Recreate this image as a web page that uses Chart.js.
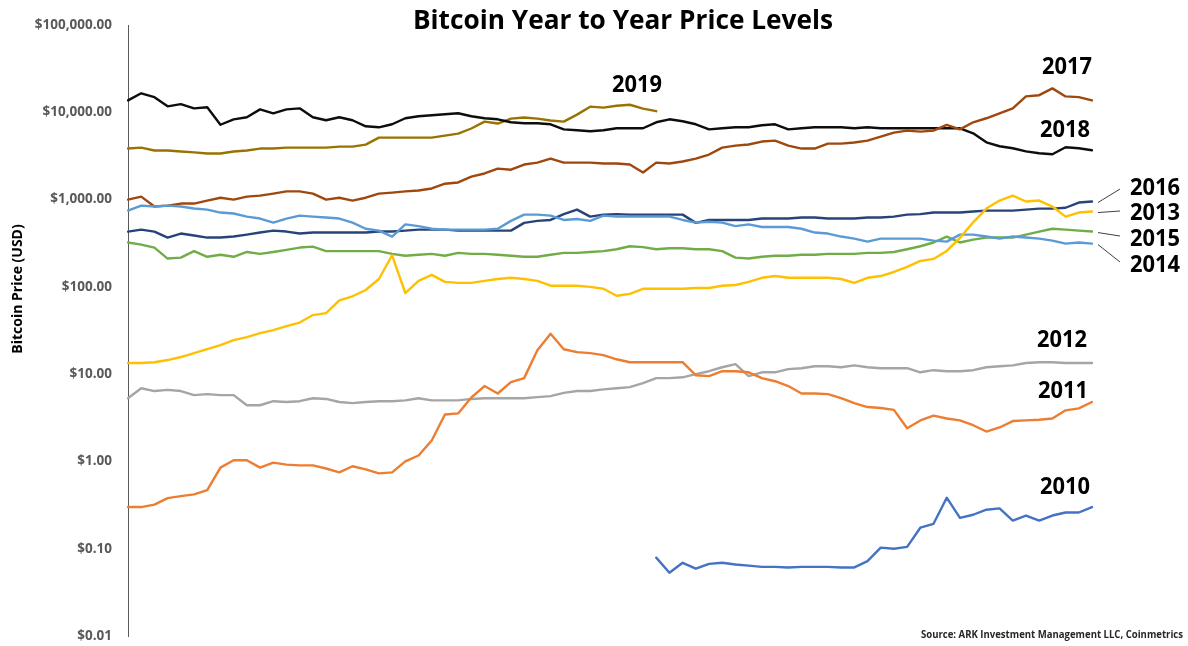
<!DOCTYPE html>
<html>
<head>
<meta charset="utf-8">
<script src="https://cdn.jsdelivr.net/npm/chart.js@4.4.1/dist/chart.umd.min.js"></script>
<style>
html,body{margin:0;padding:0;background:#ffffff;}
#wrap{width:1188px;height:646px;position:relative;}
</style>
</head>
<body>
<div id="wrap"><canvas id="c" width="1188" height="646"></canvas></div>
<script>
// ---------- data ----------
const days = [0,5,10,15,20,25,30,35,40,45,50,55,60,65,70,75,80,85,90,95,100,105,110,115,120,125,130,135,140,145,150,155,160,165,170,175,180,185,190,195,200,205,210,215,220,225,230,235,240,245,250,255,260,265,270,275,280,285,290,295,300,305,310,315,320,325,330,335,340,345,350,355,360,365];

const yTickValues = [0.01, 0.1, 1, 10, 100, 1000, 10000, 100000];

const title = 'Bitcoin Year to Year Price Levels';
const yTitle = 'Bitcoin Price (USD)';
const source = 'Source: ARK Investment Management LLC, Coinmetrics';

// 2010 begins at day 200 (index 40)
const start2010 = 40;
const p2010 = [0.079,0.053,0.069,0.059,0.067,0.069,0.066,0.064,0.062,0.062,
  0.061,0.062,0.062,0.062,0.061,0.061,0.072,0.103,0.10,0.105,
  0.174,0.193,0.384,0.226,0.245,0.28,0.29,0.21,0.24,0.21,
  0.24,0.26,0.26,0.30];

const p2011 = [0.30,0.30,0.32,0.38,0.40,0.42,0.47,0.85,1.03,1.03,
  0.85,0.97,0.92,0.90,0.90,0.83,0.75,0.88,0.81,0.73,
  0.75,1.0,1.17,1.74,3.45,3.55,5.4,7.3,6.0,8.1,
  9.0,18.8,29,19.3,17.9,17.4,16.5,14.8,13.7,13.7,
  13.7,13.7,13.7,9.7,9.5,10.8,10.8,10.5,9.0,8.3,
  7.3,6.0,6.0,5.9,5.3,4.65,4.2,4.1,3.9,2.4,
  2.95,3.35,3.1,2.95,2.6,2.2,2.45,2.9,2.95,3.0,
  3.1,3.85,4.05,4.8];

const p2012 = [5.3,6.9,6.4,6.6,6.4,5.75,5.9,5.75,5.75,4.4,
  4.4,4.9,4.8,4.9,5.3,5.2,4.8,4.65,4.8,4.9,
  4.9,5.0,5.3,5.0,5.0,5.0,5.2,5.3,5.3,5.3,
  5.3,5.45,5.6,6.1,6.4,6.4,6.7,6.9,7.1,7.9,
  9.0,9.0,9.2,10,10.8,12.0,13,9.5,10.5,10.5,
  11.4,11.7,12.3,12.3,12.0,12.6,12.0,11.7,11.7,11.7,
  10.5,11.1,10.8,10.8,11.1,12.0,12.3,12.6,13.4,13.7,
  13.7,13.4,13.4,13.4];

const p2013 = [13.4,13.4,13.7,14.5,15.7,17.4,19.3,21.5,24.5,26.5,
  29.5,31.9,35.5,39,47.5,50,70,78,92,123,
  230,85,117,137,114,111,111,117,123,127,
  123,117,103,103,103,100,95,79,83,95,
  95,95,95,97,97,103,105,114,127,133,
  127,127,127,127,123,111,127,133,148,169,
  198,209,258,364,549,789,974,1110,950,974,
  832,638,710,729];

const p2014 = [748,853,832,853,832,789,768,710,693,638,
  606,545,606,655,638,622,606,545,463,441,
  377,520,496,463,453,453,453,453,463,570,
  672,672,655,584,598,570,655,638,638,638,
  638,638,584,545,557,545,496,520,485,485,
  485,463,419,408,377,357,330,357,357,357,
  357,339,330,397,397,377,357,377,367,357,
  339,313,322,313];

const p2015 = [322,305,282,211,216,257,221,233,221,251,
  239,251,265,282,289,257,257,257,257,257,
  239,227,233,239,227,245,239,239,233,227,
  221,221,233,245,245,251,257,270,292,285,
  270,277,277,270,270,257,216,211,221,227,
  227,233,233,239,239,239,245,245,251,270,
  292,322,377,322,348,367,367,367,397,430,
  463,453,441,430];

const p2016 = [430,453,430,367,408,387,367,367,377,397,
  419,441,430,408,419,419,419,419,419,430,
  430,441,453,453,453,441,441,441,441,441,
  541,570,584,682,768,638,672,682,672,672,
  672,672,672,541,584,584,584,584,606,606,
  606,622,622,606,606,606,622,622,638,672,
  682,710,710,710,729,748,748,748,768,788,
  788,806,924,950];

const p2017 = [1000,1080,832,853,900,900,974,1050,1000,1080,
  1110,1170,1240,1240,1170,1000,1050,974,1050,1170,
  1200,1240,1270,1340,1520,1570,1830,1990,2260,2200,
  2520,2650,2950,2650,2650,2650,2590,2590,2520,2040,
  2650,2590,2730,2950,3280,3940,4150,4270,4620,4740,
  4150,3840,3840,4380,4380,4500,4740,5250,5850,6160,
  6000,6160,7160,6370,7680,8540,9740,11100,15200,15700,
  18800,15200,14900,13700];

const p2018 = [13700,16500,14900,11700,12400,11100,11400,7200,8300,8770,
  10800,9740,10800,11100,8770,8100,8770,8100,6910,6730,
  7290,8540,9000,9240,9490,9740,9000,8540,8310,7680,
  7480,7480,7290,6380,6220,6060,6220,6560,6560,6560,
  7680,8310,7890,7290,6380,6560,6730,6730,7100,7290,
  6380,6560,6730,6730,6730,6560,6730,6560,6560,6560,
  6560,6560,6560,6560,5750,4530,4080,3870,3570,3390,
  3300,3970,3870,3670];

// 2019 ends at day 200 (index 40)
const p2019 = [3840,3940,3650,3650,3550,3470,3370,3370,3550,3650,
  3840,3840,3940,3940,3940,3940,4040,4040,4260,5130,
  5130,5130,5130,5130,5410,5700,6520,7820,7430,8470,
  8700,8470,8040,7820,9400,11600,11300,11900,12200,11000,
  10300];

// ---------- styles ----------
const seriesStyle = {
  '2010': '#4472C4', '2011': '#ED7D31', '2012': '#A5A5A5', '2013': '#FFC000',
  '2014': '#5B9BD5', '2015': '#70AD47', '2016': '#264478', '2017': '#9E480E',
  '2018': '#0d0d0d', '2019': '#997300'
};

const lead = Array(start2010).fill(null);
const seriesData = {
  '2018': p2018, '2019': p2019, '2017': p2017, '2016': p2016, '2013': p2013,
  '2014': p2014, '2015': p2015, '2012': p2012, '2011': p2011, '2010': lead.concat(p2010)
};

const datasets = Object.keys(seriesData).map(k => ({
  label: k,
  data: seriesData[k],
  borderColor: seriesStyle[k],
  backgroundColor: seriesStyle[k],
  borderWidth: 2.4,
  pointRadius: 0,
  tension: 0,
  fill: false,
  spanGaps: false,
  borderJoinStyle: 'round',
  borderCapStyle: 'round'
}));

// label layout (left x, baseline y) and optional leader line end
const labelLayout = {
  '2019': {x: 612, y: 92},
  '2017': {x: 1042, y: 74},
  '2018': {x: 1040, y: 137},
  '2016': {x: 1130, y: 195, lx: 1120, ly: 189},
  '2013': {x: 1130, y: 220, lx: 1120, ly: 211},
  '2015': {x: 1130, y: 246, lx: 1120, ly: 236},
  '2014': {x: 1130, y: 272, lx: 1120, ly: 262},
  '2012': {x: 1037, y: 347},
  '2011': {x: 1038, y: 398},
  '2010': {x: 1040, y: 494}
};

const FONT = '"Open Sans", "Liberation Sans", sans-serif';

const annotate = {
  id: 'annotate',
  afterDraw(chart) {
    const ctx = chart.ctx;
    const xs = chart.scales.x, ys = chart.scales.y;
    ctx.save();
    // title
    ctx.fillStyle = '#000';
    ctx.textAlign = 'center';
    ctx.textBaseline = 'alphabetic';
    ctx.font = 'bold 27px ' + FONT;
    ctx.fillText(title, 623, 29, 420);
    // y-axis title
    ctx.save();
    ctx.translate(22, 289);
    ctx.rotate(-Math.PI / 2);
    ctx.font = 'bold 14px ' + FONT;
    ctx.fillText(yTitle, 0, 0, 136);
    ctx.restore();
    // series labels
    ctx.textAlign = 'left';
    ctx.font = 'bold 23px ' + FONT;
    Object.keys(labelLayout).forEach(k => {
      const L = labelLayout[k];
      ctx.fillStyle = '#000';
      ctx.fillText(k, L.x, L.y, 50);
      if (L.lx !== undefined) {
        const arr = seriesData[k];
        const i = arr.length - 1;
        const px = xs.getPixelForValue(i) + 6;
        const py = ys.getPixelForValue(arr[i]) + 1;
        ctx.strokeStyle = '#404040';
        ctx.lineWidth = 1;
        ctx.beginPath();
        ctx.moveTo(px, py);
        ctx.lineTo(L.lx, L.ly);
        ctx.stroke();
      }
    });
    // source
    ctx.fillStyle = '#262626';
    ctx.textAlign = 'right';
    ctx.font = 'bold 10.5px ' + FONT;
    ctx.fillText(source, 1183, 638, 262);
    ctx.restore();
  }
};

new Chart(document.getElementById('c'), {
  type: 'line',
  data: { labels: days, datasets: datasets },
  options: {
    responsive: false,
    animation: false,
    devicePixelRatio: 1,
    layout: { padding: { top: 25, bottom: 10, left: 0, right: 96 } },
    plugins: { legend: { display: false }, tooltip: { enabled: false }, title: { display: false } },
    scales: {
      x: { type: 'category', display: false, offset: false },
      y: {
        type: 'logarithmic',
        min: 0.01,
        max: 100000,
        afterBuildTicks: s => { s.ticks = yTickValues.map(v => ({ value: v })); },
        afterFit: s => { s.width = 128; s.paddingTop = 0; s.paddingBottom = 0; },
        grid: { display: false, drawTicks: true, tickLength: 16 },
        border: { display: true, color: '#595959', width: 1 },
        ticks: {
          padding: 0,
          color: '#595959',
          font: { family: FONT, weight: 'bold', size: 13.5 },
          callback: v => '$' + Number(v).toLocaleString('en-US', { minimumFractionDigits: 2, maximumFractionDigits: 2 })
        }
      }
    }
  },
  plugins: [annotate]
});
</script>
</body>
</html>
